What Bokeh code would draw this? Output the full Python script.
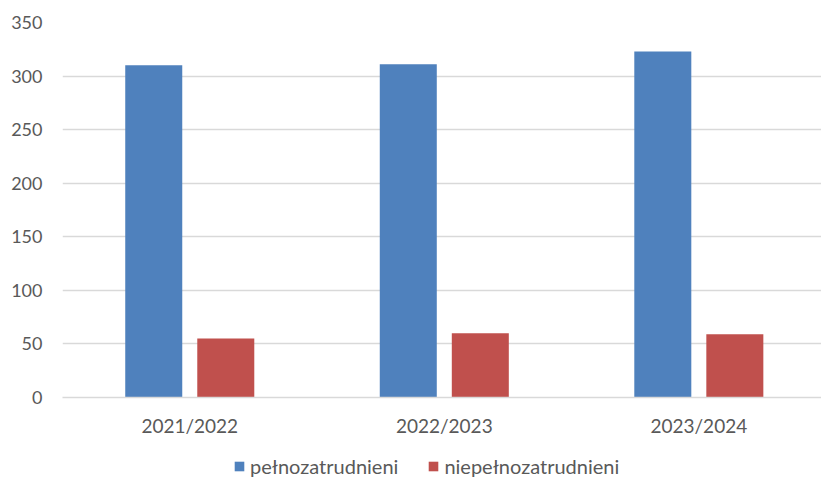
from bokeh.plotting import figure
from bokeh.layouts import column
from bokeh.models import Range1d, FixedTicker, Legend, LegendItem, ColumnDataSource
from bokeh.transform import dodge
from bokeh.embed import file_html
from bokeh.resources import INLINE

years = ["2021/2022", "2022/2023", "2023/2024"]
full_time = [310, 311, 323]
part_time = [55, 60, 59]
series_names = ["pełnozatrudnieni", "niepełnozatrudnieni"]
series_colors = ["#4F81BD", "#C0504D"]
y_ticks = [0, 50, 100, 150, 200, 250, 300, 350]

xpos = [i + 0.5 for i in range(len(years))]
src = ColumnDataSource(dict(x=xpos, full=full_time, part=part_time))

FONT = "Lato"
GREY = "#595959"

p = figure(frame_width=759, frame_height=375, output_backend="svg", toolbar_location=None,
           x_range=Range1d(0, 2.982), y_range=Range1d(0, 350),
           min_border_left=62, min_border_right=0, min_border_top=22, min_border_bottom=50)
p.outline_line_color = None

b1 = p.vbar(x=dodge("x", -0.1415, range=p.x_range), top="full", width=0.224, source=src,
            fill_color=series_colors[0], line_color=None)
b2 = p.vbar(x=dodge("x", 0.1415, range=p.x_range), top="part", width=0.224, source=src,
            fill_color=series_colors[1], line_color=None)

p.xgrid.grid_line_color = None
p.ygrid.grid_line_color = "#D9D9D9"
p.ygrid.grid_line_width = 1.5
p.yaxis.ticker = FixedTicker(ticks=y_ticks)
p.yaxis.axis_line_color = None
p.yaxis.major_tick_line_color = None
p.yaxis.minor_tick_line_color = None
p.yaxis.major_label_text_font = FONT
p.yaxis.major_label_text_font_size = "18px"
p.yaxis.major_label_text_color = GREY
p.yaxis.major_label_standoff = 14

p.xaxis.ticker = FixedTicker(ticks=xpos)
p.xaxis.major_label_overrides = {x: y for x, y in zip(xpos, years)}
p.xaxis.axis_line_color = "#D9D9D9"
p.xaxis.axis_line_width = 1.5
p.xaxis.major_tick_line_color = None
p.xaxis.minor_tick_line_color = None
p.xaxis.major_label_text_font = FONT
p.xaxis.major_label_text_font_size = "19px"
p.xaxis.major_label_text_color = GREY
p.xaxis.major_label_standoff = 10

# legend strip (its bars fall entirely outside its visible ranges; only the legend shows)
lg = figure(width=821, height=32, output_backend="svg", toolbar_location=None,
            x_axis_type=None, y_axis_type=None, x_range=Range1d(-20, -19), y_range=Range1d(-2, -1),
            min_border_left=0, min_border_right=0, min_border_top=0, min_border_bottom=0)
lg.outline_line_color = None
lg.xgrid.grid_line_color = None
lg.ygrid.grid_line_color = None
r1 = lg.vbar(x="x", top="full", width=0.1, source=src, fill_color=series_colors[0], line_color=None)
r2 = lg.vbar(x="x", top="part", width=0.1, source=src, fill_color=series_colors[1], line_color=None)

legend = Legend(items=[LegendItem(label=series_names[0], renderers=[r1]),
                       LegendItem(label=series_names[1], renderers=[r2])],
                orientation="horizontal", location=(171, 1),
                label_text_font=FONT, label_text_font_size="20px", label_text_color=GREY,
                glyph_width=12, glyph_height=12, label_standoff=5, spacing=29,
                border_line_color=None, background_fill_alpha=0, margin=0, padding=0)
lg.add_layout(legend, "center")

layout = column(p, lg, spacing=0)
open("out.html", "w").write(file_html(layout, INLINE))
